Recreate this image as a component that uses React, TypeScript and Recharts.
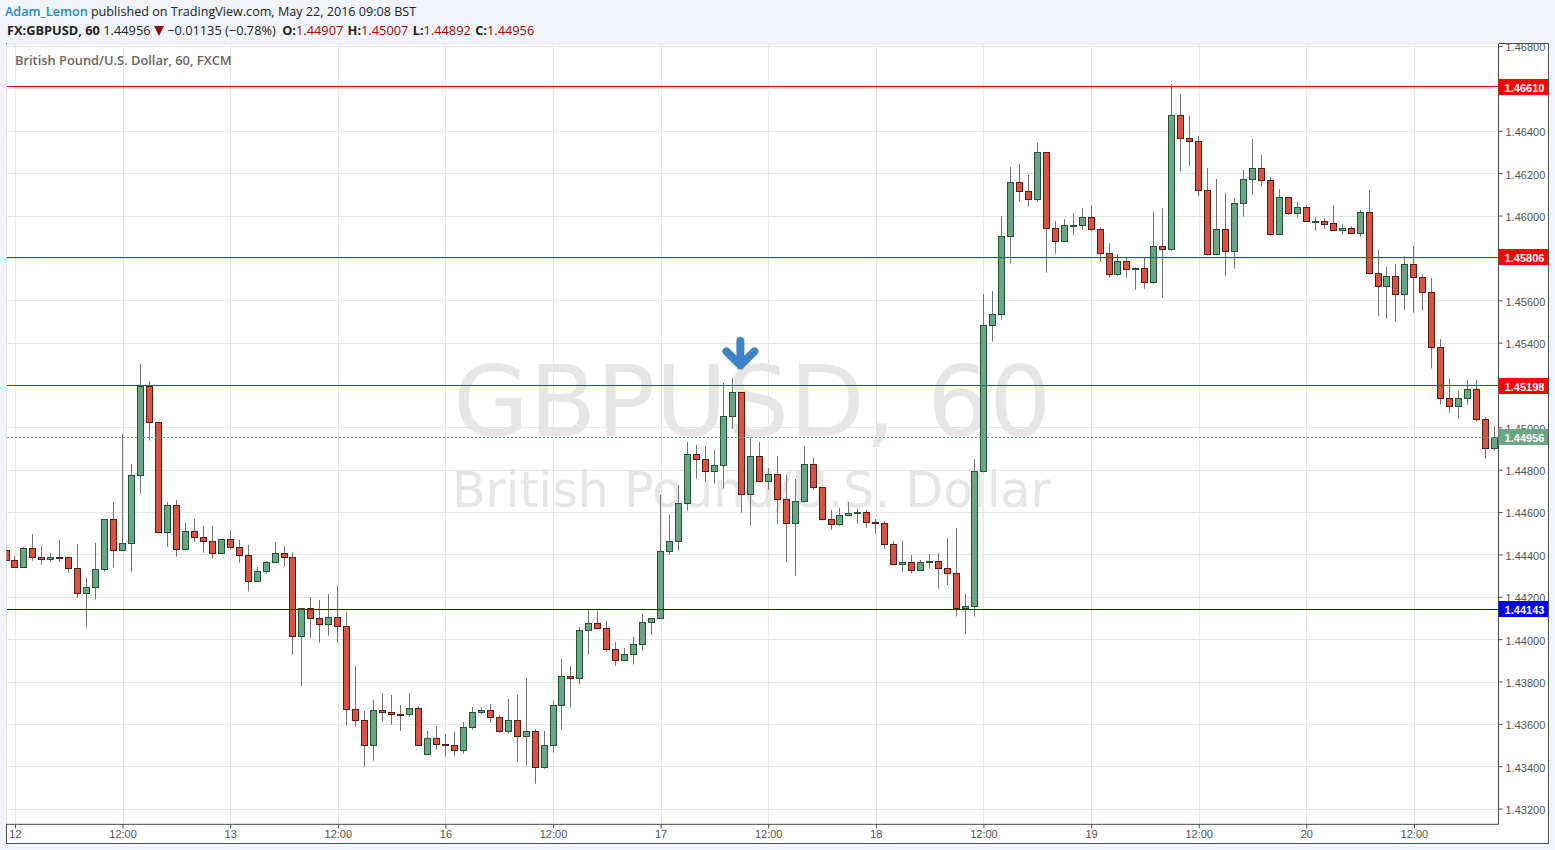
import { Bar, CartesianGrid, ComposedChart, ReferenceDot, ReferenceLine, XAxis, YAxis } from "recharts";

const opens = [
  1.44422, 1.44375, 1.44342, 1.44431, 1.44389, 1.44379, 1.44389, 1.44389, 1.44337, 1.44219,
  1.44247, 1.44332, 1.44568, 1.44422, 1.44455, 1.44776, 1.45196, 1.45026, 1.44507, 1.44634,
  1.44427, 1.44512, 1.44483, 1.44464, 1.44408, 1.44474, 1.44436, 1.44398, 1.44276, 1.44323,
  1.44365, 1.44408, 1.44389, 1.44016, 1.44148, 1.44101, 1.44072, 1.44105, 1.44063, 1.43671,
  1.43619, 1.43501, 1.43666, 1.43657, 1.43647, 1.43647, 1.43676, 1.43459, 1.43534, 1.43506,
  1.43501, 1.43478, 1.43586, 1.43657, 1.43666, 1.43633, 1.43567, 1.43619, 1.43544, 1.43567,
  1.43397, 1.43501, 1.4369, 1.43827, 1.43818, 1.44044, 1.44077, 1.44054, 1.43954, 1.43903,
  1.43931, 1.43978, 1.44082, 1.44101, 1.44417, 1.44464, 1.44644, 1.44875, 1.44851, 1.44795,
  1.44823, 1.45054, 1.45168, 1.44686, 1.44866, 1.44748, 1.44781, 1.44663, 1.44549, 1.44653,
  1.44828, 1.44719, 1.44568, 1.44544, 1.44587, 1.44596, 1.44601, 1.44554, 1.44549, 1.4445,
  1.44356, 1.44365, 1.44327, 1.44365, 1.4437, 1.44337, 1.44313, 1.44148, 1.44157, 1.44795,
  1.45484, 1.45536, 1.45904, 1.46159, 1.46116, 1.46079, 1.46301, 1.45942, 1.4588, 1.45954,
  1.45956, 1.45994, 1.45937, 1.45824, 1.45725, 1.45786, 1.45748, 1.45753, 1.45687, 1.45857,
  1.45843, 1.46476, 1.46367, 1.46353, 1.46121, 1.45819, 1.45937, 1.45833, 1.4606, 1.46173,
  1.46225, 1.46168, 1.45913, 1.46088, 1.46013, 1.46041, 1.45973, 1.45975, 1.45965, 1.45932,
  1.45942, 1.45918, 1.46017, 1.45729, 1.45668, 1.45715, 1.4563, 1.45772, 1.4571, 1.4564,
  1.4538, 1.45139, 1.45102, 1.45139, 1.45182, 1.4504, 1.44907,
];
const highs = [
  1.4443, 1.44395, 1.44438, 1.44499, 1.44442, 1.44409, 1.44471, 1.44389, 1.44452, 1.44291,
  1.44457, 1.44568, 1.4465, 1.44971, 1.4483, 1.45302, 1.45221, 1.45026, 1.44649, 1.4466,
  1.44551, 1.4457, 1.44537, 1.44537, 1.44474, 1.44518, 1.44471, 1.44447, 1.44343, 1.44371,
  1.44461, 1.44442, 1.44412, 1.44148, 1.44201, 1.44187, 1.44216, 1.44253, 1.44131, 1.43876,
  1.43663, 1.43715, 1.43748, 1.43739, 1.43692, 1.43748, 1.43687, 1.43569, 1.43592, 1.43555,
  1.43564, 1.43611, 1.43682, 1.43682, 1.43696, 1.43644, 1.4372, 1.43739, 1.43819, 1.43578,
  1.43569, 1.43711, 1.43909, 1.43876, 1.4406, 1.44143, 1.44135, 1.44088, 1.43989, 1.43961,
  1.44013, 1.44121, 1.44101, 1.44683, 1.44589, 1.4473, 1.44933, 1.44919, 1.44914, 1.44896,
  1.45212, 1.45235, 1.45168, 1.44955, 1.44933, 1.44809, 1.44867, 1.44777, 1.44759, 1.44914,
  1.44858, 1.44719, 1.44612, 1.44622, 1.4465, 1.44617, 1.44612, 1.4457, 1.44559, 1.44466,
  1.44466, 1.444, 1.44376, 1.44405, 1.44409, 1.4448, 1.44527, 1.44216, 1.44853, 1.45632,
  1.45646, 1.46, 1.46231, 1.46245, 1.46194, 1.46345, 1.46301, 1.45976, 1.45986, 1.46014,
  1.46038, 1.46052, 1.45946, 1.45872, 1.45821, 1.45805, 1.45758, 1.45805, 1.46019, 1.46038,
  1.46624, 1.46576, 1.46473, 1.46378, 1.46227, 1.46175, 1.46109, 1.46083, 1.46217, 1.46364,
  1.46288, 1.46184, 1.46127, 1.46088, 1.46066, 1.4605, 1.45995, 1.45989, 1.46052, 1.45962,
  1.45951, 1.46028, 1.46123, 1.45839, 1.45759, 1.45773, 1.45811, 1.45858, 1.45725, 1.45707,
  1.4542, 1.45231, 1.45174, 1.45226, 1.45226, 1.45051, 1.45007,
];
const lows = [
  1.44375, 1.44342, 1.44342, 1.44373, 1.44354, 1.44368, 1.44368, 1.44317, 1.44198, 1.44057,
  1.44189, 1.44321, 1.4434, 1.44422, 1.44321, 1.4469, 1.4494, 1.44501, 1.44439, 1.44392,
  1.4442, 1.44463, 1.44411, 1.44383, 1.44408, 1.44425, 1.44364, 1.44227, 1.44276, 1.44312,
  1.44365, 1.44343, 1.43929, 1.43783, 1.44009, 1.43986, 1.44019, 1.43986, 1.43594, 1.43589,
  1.434, 1.43429, 1.43613, 1.43599, 1.4357, 1.43636, 1.43501, 1.43459, 1.43481, 1.43448,
  1.43452, 1.43462, 1.43575, 1.43646, 1.43608, 1.43561, 1.43556, 1.43424, 1.43405, 1.4332,
  1.43391, 1.43467, 1.43575, 1.43679, 1.43792, 1.43929, 1.44054, 1.43943, 1.43877, 1.43903,
  1.43882, 1.43948, 1.44024, 1.44101, 1.44401, 1.4442, 1.44609, 1.4476, 1.44746, 1.44737,
  1.44713, 1.44996, 1.446, 1.44538, 1.44748, 1.44708, 1.44548, 1.44368, 1.44302, 1.44647,
  1.44708, 1.44562, 1.44519, 1.44538, 1.44587, 1.44548, 1.44529, 1.445, 1.4443, 1.44351,
  1.44321, 1.44312, 1.44327, 1.44335, 1.44241, 1.44258, 1.44109, 1.44028, 1.44109, 1.4479,
  1.45407, 1.45511, 1.45775, 1.46068, 1.46044, 1.46068, 1.45733, 1.45822, 1.45876, 1.4591,
  1.45934, 1.45928, 1.45784, 1.45709, 1.45718, 1.45709, 1.45652, 1.45657, 1.4568, 1.45614,
  1.45836, 1.4621, 1.46238, 1.46096, 1.45813, 1.45815, 1.45718, 1.45751, 1.45997, 1.46101,
  1.46139, 1.45907, 1.45913, 1.46006, 1.45992, 1.45975, 1.45931, 1.4594, 1.45932, 1.45912,
  1.45918, 1.45902, 1.45723, 1.45529, 1.45515, 1.45501, 1.45558, 1.45544, 1.45553, 1.45281,
  1.45109, 1.45072, 1.45043, 1.45109, 1.45029, 1.44854, 1.44892,
];
const closes = [
  1.44375, 1.44342, 1.44431, 1.44389, 1.44379, 1.44389, 1.44387, 1.44337, 1.44219, 1.44247,
  1.44332, 1.44568, 1.44422, 1.44455, 1.44776, 1.45196, 1.45026, 1.44507, 1.44634, 1.44427,
  1.44512, 1.44483, 1.44464, 1.44408, 1.44474, 1.44436, 1.44398, 1.44276, 1.44323, 1.44365,
  1.44408, 1.44389, 1.44016, 1.44148, 1.44101, 1.44072, 1.44105, 1.44063, 1.43671, 1.43619,
  1.43501, 1.43666, 1.43657, 1.43647, 1.43646, 1.43676, 1.43501, 1.43534, 1.43506, 1.43501,
  1.43478, 1.43586, 1.43657, 1.43666, 1.43633, 1.43567, 1.43619, 1.43544, 1.43567, 1.43397,
  1.43501, 1.4369, 1.43827, 1.43818, 1.44044, 1.44077, 1.44054, 1.43954, 1.43903, 1.43931,
  1.43978, 1.44082, 1.44101, 1.44417, 1.44464, 1.44644, 1.44875, 1.44851, 1.44795, 1.44823,
  1.45054, 1.45168, 1.44686, 1.44866, 1.44748, 1.44781, 1.44663, 1.44549, 1.44653, 1.44828,
  1.44719, 1.44568, 1.44544, 1.44587, 1.44596, 1.44601, 1.44554, 1.44549, 1.4445, 1.44356,
  1.44365, 1.44327, 1.44365, 1.4437, 1.44337, 1.44313, 1.44148, 1.44157, 1.44795, 1.45484,
  1.45536, 1.45904, 1.46159, 1.46116, 1.46079, 1.46301, 1.45942, 1.4588, 1.45956, 1.45956,
  1.45994, 1.45937, 1.45824, 1.45725, 1.45786, 1.45748, 1.45753, 1.45687, 1.45857, 1.45843,
  1.46476, 1.46367, 1.46353, 1.46121, 1.45819, 1.45937, 1.45833, 1.4606, 1.46173, 1.46225,
  1.46168, 1.45913, 1.46088, 1.46013, 1.46041, 1.45975, 1.45976, 1.45964, 1.45932, 1.45942,
  1.45918, 1.46017, 1.45729, 1.45668, 1.45715, 1.4563, 1.45772, 1.4571, 1.4564, 1.4538,
  1.45139, 1.45102, 1.45139, 1.45182, 1.4504, 1.44903, 1.44956,
];

const priceTicks = [
  1.432, 1.434, 1.436, 1.438, 1.44, 1.442, 1.444, 1.446, 1.448, 1.45,
  1.452, 1.454, 1.456, 1.458, 1.46, 1.462, 1.464, 1.466, 1.468,
];
const timeTicks = [1, 13, 25, 37, 49, 61, 73, 85, 97, 109, 121, 133, 145, 157];
const timeLabels = ["12", "12:00", "13", "12:00", "16", "12:00", "17", "12:00", "18", "12:00", "19", "12:00", "20", "12:00"];

const levels = [
  { price: 1.4661, color: "#e60000", badge: "#ff0000" },
  { price: 1.45806, color: "#e60000", badge: "#ff0000" },
  { price: 1.45198, color: "#e60000", badge: "#ff0000" },
  { price: 1.44143, color: "#0000d8", badge: "#0000ff" },
];
const lastPrice = 1.44956;
const arrowBar = 81.84;
const arrowPrice = 1.45276;
const priceDomain = [1.431283, 1.468145];

const UP = "#6ba583";
const DOWN = "#d75442";
const AXIS = "#4c4c4c";
const AXIS_FONT = '"Liberation Sans", Arial, sans-serif';
const HEAD_FONT = '"Open Sans", "Noto Sans", sans-serif';
const MARK_FONT = '"DejaVu Sans", sans-serif';

const rows = opens.map((open, i) => ({
  bar: i,
  open,
  high: highs[i],
  low: lows[i],
  close: closes[i],
}));

function Candle(props: any) {
  const { x, y, width, height, payload } = props;
  const top = Math.min(y, y + height);
  const k = Math.abs(height) / (payload.high - payload.low);
  const py = (p: number) => top + (payload.high - p) * k;
  const cx = Math.round(x + width / 2 - 0.5) + 0.5;
  const up = payload.close >= payload.open;
  const bodyTop = Math.round(py(Math.max(payload.open, payload.close))) + 0.5;
  const bodyBottom = Math.round(py(Math.min(payload.open, payload.close))) + 0.5;
  return (
    <g>
      <line x1={cx} x2={cx} y1={py(payload.high)} y2={py(payload.low)} stroke="#737375" strokeWidth={1} />
      <rect
        x={cx - 3}
        y={bodyTop}
        width={6}
        height={Math.max(bodyBottom - bodyTop, 1)}
        fill={up ? UP : DOWN}
        stroke={up ? "#225437" : "#5b1a13"}
        strokeWidth={1}
      />
    </g>
  );
}

function Badge(props: any) {
  const { viewBox, value, color } = props;
  const left = viewBox.x + viewBox.width;
  return (
    <g>
      <rect x={left} y={Math.round(viewBox.y) - 8} width={49.5} height={16} fill={color} />
      <text x={left + 26} y={Math.round(viewBox.y) + 4.5} textAnchor="middle" fill="#fff" fontFamily={AXIS_FONT} fontSize={11} fontWeight="bold">
        {value.toFixed(5)}
      </text>
    </g>
  );
}

function Arrow(props: any) {
  const { cx, cy } = props;
  return (
    <path
      d={`M${cx} ${cy - 28.5}V${cy - 4}M${cx - 14} ${cy - 18}L${cx} ${cy - 4}L${cx + 14} ${cy - 18}`}
      fill="none"
      stroke="#3d85c6"
      strokeWidth={8}
      strokeLinecap="round"
      strokeLinejoin="round"
    />
  );
}

const red = { color: "#b00000" };
const label = { fontWeight: 700, color: "#222", marginLeft: 1 };

export default function App() {
  return (
    <div style={{ position: "absolute", left: 0, top: 0, width: 1555, height: 850, background: "#f1f5f9", overflow: "hidden" }}>
      <div style={{ position: "absolute", left: 5, top: 3, fontFamily: HEAD_FONT, fontSize: 12.6, color: "#222", whiteSpace: "nowrap" }}>
        <span style={{ color: "#1f8ac0", fontWeight: 600 }}>Adam_Lemon</span> published on TradingView.com, May 22, 2016 09:08 BST
      </div>
      <div style={{ position: "absolute", left: 7, top: 21, fontFamily: HEAD_FONT, fontSize: 12.8, color: "#222", whiteSpace: "nowrap" }}>
        <span style={{ fontWeight: 700, color: "#222" }}>FX:GBPUSD, 60</span> 1.44956{" "}
        <svg width={10} height={10} viewBox="0 0 10 10" style={{ verticalAlign: -1 }}>
          <path d="M0 0H10L5 10Z" fill="#8f0f0f" />
        </svg>{" "}
        −0.01135 (−0.78%){" "}
        <span style={{ ...label, marginLeft: 3 }}>O:</span><span style={red}>1.44907</span> <span style={label}>H:</span><span style={red}>1.45007</span>{" "}
        <span style={label}>L:</span><span style={red}>1.44892</span> <span style={label}>C:</span><span style={red}>1.44956</span>
      </div>
      <div style={{ position: "absolute", left: 6, top: 43, width: 1541, height: 799, background: "#fff", border: `1px solid ${AXIS}` }} />
      <div style={{ position: "absolute", left: 453, top: 346, fontFamily: MARK_FONT, fontSize: 98, lineHeight: "112px", color: "#e6e6e6", whiteSpace: "nowrap" }}>GBPUSD, 60</div>
      <div style={{ position: "absolute", left: 452, top: 463, fontFamily: MARK_FONT, fontSize: 49, lineHeight: "56px", color: "#e6e6e6", whiteSpace: "nowrap" }}>British Pound/U.S. Dollar</div>
      <div style={{ position: "absolute", left: 0, top: 0 }}>
        <ComposedChart
          width={1555}
          height={850}
          data={rows}
          margin={{ top: 43.5, right: 7, bottom: 5.7, left: 6.5 }}
        >
          <CartesianGrid stroke="#e6e6e6" strokeWidth={1} shapeRendering="crispEdges" />
          <XAxis
            dataKey="bar"
            type="number"
            domain={[0, 166.38]}
            allowDataOverflow
            ticks={timeTicks}
            interval={0}
            tickFormatter={(v: number) => timeLabels[timeTicks.indexOf(v)]}
            height={20}
            stroke={AXIS}
            tickSize={4}
            tick={{ fill: "#555", fontSize: 11, fontFamily: AXIS_FONT }}
          />
          <YAxis
            orientation="right"
            type="number"
            domain={priceDomain}
            allowDataOverflow
            ticks={priceTicks}
            interval={0}
            tickFormatter={(v: number) => v.toFixed(5)}
            width={49.5}
            stroke={AXIS}
            tickSize={4}
            tickMargin={3}
            tick={{ fill: "#555", fontSize: 11, fontFamily: AXIS_FONT, dy: 1 }}
          />
          <Bar dataKey={(d: any) => [d.low, d.high]} barSize={8} shape={Candle} isAnimationActive={false} />
          <ReferenceDot x={arrowBar} y={arrowPrice} shape={Arrow} />
        </ComposedChart>
      </div>
      <div style={{ position: "absolute", left: 0, top: 0 }}>
        <ComposedChart
          width={1555}
          height={850}
          data={rows}
          margin={{ top: 43.5, right: 56.5, bottom: 25.7, left: 6.5 }}
        >
          <XAxis dataKey="bar" type="number" domain={[0, 166.38]} hide />
          <YAxis type="number" domain={priceDomain} allowDataOverflow hide />
          {levels.map((l) => (
            <ReferenceLine
              key={l.price}
              y={l.price}
              stroke={l.color}
              strokeWidth={1}
              shapeRendering="crispEdges"
              label={<Badge value={l.price} color={l.badge} />}
            />
          ))}
          <ReferenceLine
            y={lastPrice}
            stroke={UP}
            strokeDasharray="2 2"
            shapeRendering="crispEdges"
            label={<Badge value={lastPrice} color={UP} />}
          />
        </ComposedChart>
      </div>
      <div style={{ position: "absolute", left: 15, top: 51, fontFamily: HEAD_FONT, fontSize: 12.85, fontWeight: 600, color: "#666", whiteSpace: "nowrap" }}>
        British Pound/U.S. Dollar, 60, FXCM
      </div>
    </div>
  );
}
